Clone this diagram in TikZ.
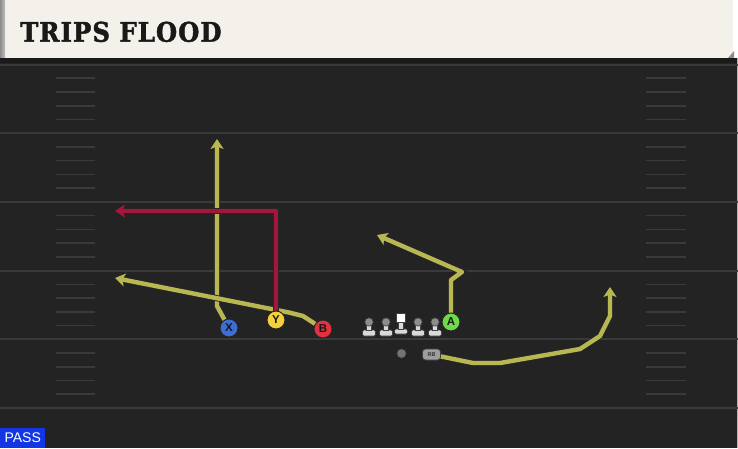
\documentclass[tikz,border=0pt]{standalone}
\usepackage{fontspec}
\setsansfont{Liberation Sans}
\newfontfamily\titlefont{DejaVu Serif Condensed}[LetterSpace=4, BoldFeatures={FakeBold=1.6}]
\usepackage{tikz}
\definecolor{FieldGray}{HTML}{232323}
\definecolor{FieldShadow}{HTML}{1A1A1A}
\definecolor{LineGray}{HTML}{3A3A3A}
\definecolor{HeaderCream}{HTML}{F3F1EA}
\definecolor{RouteYellow}{HTML}{B8B752}
\definecolor{RouteRed}{HTML}{A8143A}
\definecolor{PassBlue}{HTML}{1236E6}
\definecolor{XBlue}{HTML}{3C6ED6}
\definecolor{YYellow}{HTML}{F4D03A}
\definecolor{BRed}{HTML}{E2323F}
\definecolor{AGreen}{HTML}{6FD94C}
\usetikzlibrary{
	positioning,
	arrows.meta
}
\pgfdeclarelayer{field}
\pgfdeclarelayer{routes}
\pgfsetlayers{field,routes,main}

\begin{document}
\begin{tikzpicture}[
	x=1pt, y=-1pt,
	player/.style={circle, draw=black!85, line width=1pt, inner sep=0pt, minimum size=18pt, font=\sffamily\bfseries\fontsize{11.5}{11.5}\selectfont, text=black!90},
	route/.style={draw=RouteYellow, line width=4.4pt, line join=round, line cap=round,
		preaction={draw=black!85, line width=6.2pt}},
	redroute/.style={route, draw=RouteRed},
	goes/.style={-{Stealth[length=10pt, width=13pt, inset=2.5pt]},
		preaction={-{Stealth[length=12pt, width=16pt, inset=3pt]}}},
	yardline/.style={draw=LineGray, line width=2pt},
	hash/.style={draw=LineGray, line width=1.6pt},
	qbdot/.style={circle, fill=black!55, draw=black!80, line width=0.6pt, inner sep=0pt, minimum size=9.5pt},
	rbbox/.style={draw=black!75, fill=black!38, line width=0.8pt, rounded corners=3pt, inner sep=0pt,
		minimum width=18pt, minimum height=11pt, font=\sffamily\bfseries\fontsize{5.5}{5.5}\selectfont, text=black!80},
	passbox/.style={fill=PassBlue, text=white, inner sep=0pt, minimum width=45pt, minimum height=20pt,
		font=\sffamily\fontsize{14}{14}\selectfont},
	lineman/.pic={
		\filldraw[fill=black!15, draw=black!75, line width=0.6pt, rounded corners=1.5pt] (-6.5,8) rectangle (6.5,14);
		\filldraw[fill=black!15, draw=black!75, line width=0.6pt] (-2.6,0) rectangle (2.6,8.3);
		\filldraw[fill=black!45, draw=black!75, line width=0.6pt] (0,0) circle (4.2);
	},
	snapper/.pic={
		\filldraw[fill=black!15, draw=black!75, line width=0.6pt, rounded corners=1.5pt] (-6.5,7) rectangle (6.5,12);
		\filldraw[fill=black!15, draw=black!75, line width=0.6pt] (-2.6,0) rectangle (2.6,7.3);
		\filldraw[fill=white, draw=black!75, line width=0.6pt] (-4.6,-8.3) rectangle (4.6,0);
	}
]
	\useasboundingbox (0,0) rectangle (738,448);

	% field and header
	\begin{pgfonlayer}{field}
		\fill[white] (0,0) rectangle (738,448);
		\fill[HeaderCream] (0,0) rectangle (733,58);
		\fill[left color=black!45, right color=black!25] (0,0) rectangle (5,58);
		\fill[black!45] (728,58) -- (734,51) -- (734,58) -- cycle;
		\fill[FieldGray] (0,58) rectangle (738,448);
		\fill[FieldShadow] (0,58) rectangle (738,63);
		\draw[black!30, line width=1pt] (737.5,58) -- (737.5,448);
		\foreach \k in {0,...,5}
			\draw[yardline] (0,64.5+68.7*\k) -- (738,64.5+68.7*\k);
		\foreach \k in {0,...,4}
			\foreach \h in {1,...,4} {
				\draw[hash] (56,64.5+68.7*\k+13.74*\h) -- (95,64.5+68.7*\k+13.74*\h);
				\draw[hash] (646,64.5+68.7*\k+13.74*\h) -- (686,64.5+68.7*\k+13.74*\h);
			}
	\end{pgfonlayer}

	\node[anchor=base west, inner sep=0pt, font=\titlefont\bfseries\fontsize{27}{27}\selectfont, text=black!90] (title) at (20,41.7) {TRIPS FLOOD};
	\node[passbox, anchor=south west] (pass) at (0,448) {PASS};

	% line
	\foreach \lx in {369,386,418,435}
		\pic at (\lx,322) {lineman};
	\pic at (401,322) {snapper};

	% skill players
	\node[player, fill=XBlue] (X) at (229,328) {X};
	\node[player, fill=YYellow] (Y) at (276,320) {Y};
	\node[player, fill=BRed] (B) at (323,329) {B};
	\node[player, fill=AGreen] (A) at (451,322) {A};
	\node[qbdot] (QB) at (401.5,353.5) {};
	\node[rbbox] (RB) at (431.5,354.5) {RB};

	\coordinate (xgo) at (217,139);
	\coordinate (ygo) at (115,211);
	\coordinate (bgo) at (115,278);
	\coordinate (ago) at (377,235);
	\coordinate (rbgo) at (610,287);

	% routes
	\begin{pgfonlayer}{routes}
		\draw[route, goes] (X) -- (217,306) -- (xgo);
		\draw[route, goes] (B) -- (303,316) -- (289,312.5) -- (bgo);
		\draw[redroute, goes] (Y) -- (276,211) -- (ygo);
		\draw[route, goes] (A) -- (451,280) -- (462,272) -- (ago);
		\draw[route, goes] (RB) -- (473,363) -- (500,363) -- (580,349) -- (600,336) -- (610,316) -- (rbgo);
	\end{pgfonlayer}

\end{tikzpicture}
\end{document}
